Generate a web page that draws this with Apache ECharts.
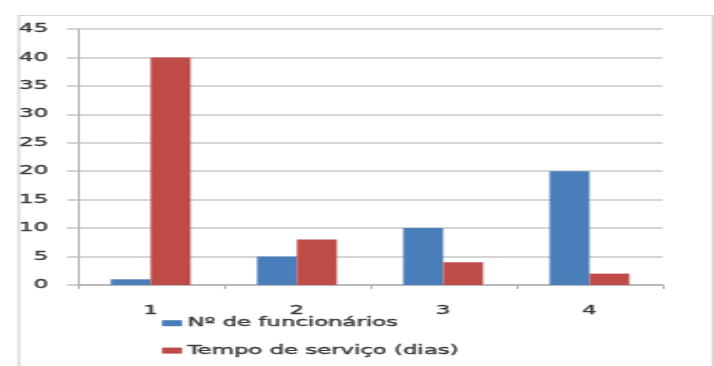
<!DOCTYPE html>
<html>
<head>
<meta charset="utf-8">
<script src="https://cdn.jsdelivr.net/npm/echarts@6/dist/echarts.min.js"></script>
<style>
  html, body { margin: 0; padding: 0; background: #fff; overflow: hidden; }
  /* The chart is laid out narrow and stretched sideways to give its wide lettering */
  #chart { width: 376px; height: 366px; transform: scaleX(1.899); transform-origin: 0 0; }
</style>
</head>
<body>
<div id="chart"></div>
<script>
// Categories and series values
const categories = ['1', '2', '3', '4'];
const funcionarios = [1, 5, 10, 20];
const tempoServico = [40, 8, 4, 2];
const seriesNames = ['Nº de funcionários', 'Tempo de serviço (dias)'];
const yTicks = { min: 0, max: 45, interval: 5 };

const chart = echarts.init(document.getElementById('chart'));
const fontFamily = "'DejaVu Sans', Verdana, sans-serif";
const textColor = '#3c3c3c';
const textStyle = {
  fontFamily, fontSize: 12, color: textColor,
  textBorderColor: textColor, textBorderWidth: 0.4
};

chart.setOption({
  animation: false,
  backgroundColor: '#ffffff',
  graphic: [{
    type: 'rect',
    left: 7.4, top: 13,
    shape: { width: 365.5, height: 360 },
    style: { fill: 'none', stroke: '#d4d4d4', lineWidth: 1.2 },
    silent: true
  }],
  grid: { left: 40.8, right: 27.1, top: 29, bottom: 81, containLabel: false },
  legend: {
    orient: 'vertical',
    left: 85.3,
    top: 317,
    padding: 0,
    itemWidth: 10.5,
    itemHeight: 6,
    itemGap: 15,
    icon: 'rect',
    textStyle: Object.assign({ padding: [0, 0, 0, -2] }, textStyle),
    data: seriesNames
  },
  xAxis: {
    type: 'category',
    data: categories,
    axisLine: { lineStyle: { color: '#b0b0b0', width: 1.5 } },
    axisTick: { show: true, length: 4, lineStyle: { color: '#b0b0b0' } },
    axisLabel: Object.assign({ margin: 20 }, textStyle)
  },
  yAxis: {
    type: 'value',
    min: yTicks.min, max: yTicks.max, interval: yTicks.interval,
    axisLine: { show: true, lineStyle: { color: '#b0b0b0', width: 1 } },
    axisTick: { show: true, length: 5.5, lineStyle: { color: '#c4c4c4', width: 1.5 } },
    axisLabel: Object.assign({ margin: 15.5 }, textStyle),
    splitLine: { lineStyle: { color: '#c8c8c8', width: 1.6 } }
  },
  series: [
    {
      name: seriesNames[0],
      type: 'bar',
      data: funcionarios,
      barWidth: 21,
      barGap: '0%',
      itemStyle: { color: '#4a7ebb' }
    },
    {
      name: seriesNames[1],
      type: 'bar',
      data: tempoServico,
      barWidth: 21,
      barGap: '0%',
      itemStyle: { color: '#be4b48' }
    }
  ]
});
</script>
</body>
</html>
